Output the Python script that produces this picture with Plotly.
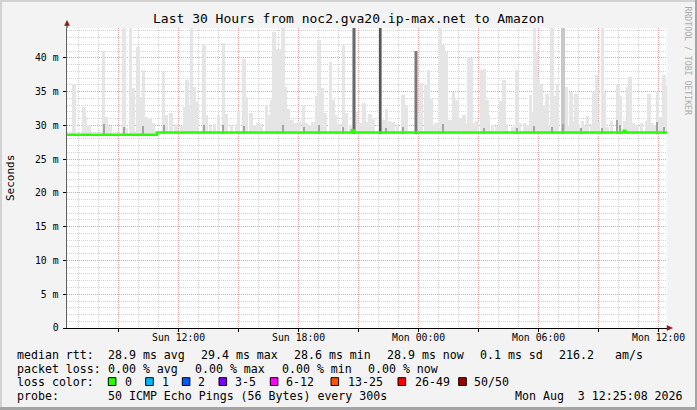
import plotly.graph_objects as go

# ---------------- data ----------------
SUN = "2026-08-02 "
MON = "2026-08-03 "

# median RTT (ms), drawn as a step line
median_times = [SUN + "06:25:08", SUN + "10:55", SUN + "20:40", SUN + "20:45",
                MON + "10:15", MON + "10:20", MON + "12:25:08"]
median_ms = [28.62, 28.95, 29.3, 28.95, 29.2, 28.95, 28.95]

# light smoke (outer ping spread) – top of each smoke column, ms
smoke_sun_times = ["06:46", "07:16", "07:20", "07:31", "08:14", "08:22", "08:34", "09:16", "09:22", "09:35",
                   "09:43", "09:58", "10:05", "10:14", "10:22", "10:34", "10:43", "11:14", "11:22", "11:37",
                   "11:52", "12:10", "12:17", "12:25", "12:32", "12:38", "12:46", "12:52", "13:16", "13:23",
                   "13:35", "13:47", "13:59", "14:14", "14:22", "14:38", "14:53", "14:59", "15:16", "15:23",
                   "15:37", "15:46", "15:58", "16:08", "16:23", "16:31", "16:38", "16:46", "16:55", "17:05",
                   "17:13", "17:20", "17:29", "17:40", "17:52", "18:01", "18:14", "18:22", "18:34", "18:43",
                   "18:55", "19:01", "19:10", "19:19", "19:35", "19:43", "19:50", "20:01", "20:14", "20:23",
                   "20:35", "20:53", "21:04", "21:16", "21:23", "21:34", "21:43", "22:16", "22:23", "22:32",
                   "22:43", "22:56", "23:13", "23:22"]
smoke_sun_tops = [36.1, 32.8, 31.3, 30.1, 41.0, 31.3, 29.9, 44.4, 29.7, 44.4,
                  35.6, 41.7, 34.2, 38.2, 31.3, 30.9, 30.3, 38.1, 31.6, 31.9,
                  30.2, 29.9, 32.8, 36.8, 33.0, 44.4, 35.7, 33.5, 42.0, 31.6,
                  29.9, 30.2, 31.6, 42.2, 31.7, 30.0, 30.2, 32.1, 39.9, 34.2,
                  31.8, 30.0, 30.4, 30.2, 33.1, 31.6, 33.8, 43.9, 41.4, 41.4,
                  44.4, 35.7, 32.5, 30.8, 30.3, 30.5, 33.0, 30.4, 30.0, 30.5,
                  34.3, 42.7, 35.6, 31.9, 39.4, 33.8, 31.6, 30.2, 41.9, 31.8,
                  30.0, 32.0, 30.3, 33.3, 30.5, 31.7, 31.0, 30.8, 32.4, 30.6,
                  30.5, 30.0, 34.5, 33.1]
smoke_mon_times = ["00:01", "00:07", "00:20", "00:29", "00:37", "00:46", "00:52", "01:05", "01:13", "01:23",
                   "01:34", "01:44", "01:55", "02:07", "02:16", "02:25", "02:31", "02:37", "02:44", "02:55",
                   "03:10", "03:17", "03:25", "03:29", "03:41", "03:55", "04:07", "04:16", "04:23", "04:43",
                   "04:55", "05:02", "05:17", "05:26", "05:35", "05:41", "05:47", "05:53", "05:59", "06:07",
                   "06:17", "06:25", "06:31", "06:40", "06:49", "06:56", "07:22", "07:29", "07:37", "07:44",
                   "07:52", "07:59", "08:11", "08:17", "08:26", "08:38", "08:46", "08:53", "08:59", "09:11",
                   "09:17", "09:26", "09:38", "09:58", "10:05", "10:17", "10:26", "10:34", "10:43", "10:55",
                   "11:08", "11:23", "11:31", "11:41", "11:50", "11:56", "12:04", "12:11", "12:16", "12:22"]
smoke_mon_tops = [31.7, 36.3, 36.0, 38.2, 34.0, 30.0, 30.3, 44.4, 41.9, 40.9,
                  30.8, 35.0, 33.8, 30.9, 31.6, 30.4, 40.2, 40.0, 30.3, 30.7,
                  38.2, 38.4, 33.8, 31.6, 30.0, 29.9, 33.7, 36.7, 30.2, 29.8,
                  38.2, 30.4, 30.4, 30.1, 34.5, 32.0, 44.4, 40.9, 36.7, 36.2,
                  33.1, 34.7, 30.1, 44.4, 34.3, 36.2, 35.7, 29.9, 35.0, 30.7,
                  34.7, 30.2, 30.7, 29.9, 31.4, 30.2, 35.0, 37.5, 30.6, 44.4,
                  35.0, 29.8, 30.7, 36.0, 34.3, 30.6, 35.7, 37.2, 30.4, 30.1,
                  30.4, 30.7, 34.7, 30.4, 30.1, 35.0, 31.2, 30.5, 37.5, 36.0]

# denser (mid-grey) smoke column
mid_times = [MON + "07:13"]
mid_tops = [44.4]

# darker smoke near the median (inner pings)
base_times = [SUN + t for t in ["08:16", "09:16", "10:14", "11:16", "13:16", "14:14", "15:16", "17:13",
                                 "18:16", "19:01", "20:14", "22:22", "23:13"]] + \
             [MON + t for t in ["01:13", "03:16", "04:55", "05:47", "06:40", "07:13", "08:07", "09:10",
                                 "09:55", "10:04", "11:55", "12:16"]]
base_tops = [30.2, 29.8, 29.9, 30.0, 30.0, 30.0, 29.9, 30.0,
             29.8, 30.0, 29.8, 29.7, 29.8,
             30.2, 29.6, 29.7, 29.9, 29.8, 30.2, 29.7, 29.7,
             30.8, 30.0, 30.5, 29.8]

# dark columns (all pings slow)
dark_times = [SUN + "20:46", SUN + "22:05", SUN + "23:52"]
dark_tops = [44.4, 44.4, 41.0]

SMOKE_BASE = 28.8  # smoke starts at the median line

# ---------------- helpers for pixel placement of decorations ----------------
L, R, T, B = 67, 667, 28, 328


def px(x):
    return (x - L) / (R - L)


def py(y):
    return (B - y) / (B - T)


MONO = "DejaVu Sans Mono"

fig = go.Figure()

smoke_times = [SUN + t for t in smoke_sun_times] + [MON + t for t in smoke_mon_times]
smoke_tops = smoke_sun_tops + smoke_mon_tops

fig.add_trace(go.Bar(x=smoke_times, y=[v - SMOKE_BASE for v in smoke_tops], base=SMOKE_BASE,
                     width=560000, marker=dict(color="#E5E5E5", line=dict(width=0)), hoverinfo="skip"))
fig.add_trace(go.Bar(x=mid_times, y=[v - SMOKE_BASE for v in mid_tops], base=SMOKE_BASE,
                     width=720000, marker=dict(color="#C8C8C8", line=dict(width=0)), hoverinfo="skip"))
fig.add_trace(go.Bar(x=base_times, y=[v - SMOKE_BASE for v in base_tops], base=SMOKE_BASE,
                     width=360000, marker=dict(color="#A4A4A4", line=dict(width=0)), hoverinfo="skip"))
fig.add_trace(go.Bar(x=dark_times, y=[v - SMOKE_BASE for v in dark_tops], base=SMOKE_BASE,
                     width=640000, marker=dict(color=["#ACACAC", "#9A9A9A", "#B8B8B8"], line=dict(width=0)),
                     hoverinfo="skip"))
fig.add_trace(go.Bar(x=dark_times, y=[v - SMOKE_BASE for v in dark_tops], base=SMOKE_BASE,
                     width=300000, marker=dict(color=["#686868", "#555555", "#7A7A7A"], line=dict(width=0)),
                     hoverinfo="skip"))
fig.add_trace(go.Scatter(x=median_times, y=median_ms, mode="lines",
                         line=dict(color="#26FF00", width=2.6, shape="hv"), hoverinfo="skip"))

# ---------------- axes ----------------
x_tickvals = [SUN + "09:00", SUN + "12:00", SUN + "15:00", SUN + "18:00", SUN + "21:00",
              MON + "00:00", MON + "03:00", MON + "06:00", MON + "09:00", MON + "12:00"]
x_ticktext = ["", "Sun 12:00", "", "Sun 18:00", "", "Mon 00:00", "", "Mon 06:00", "", "Mon 12:00"]
y_tickvals = [0, 5, 10, 15, 20, 25, 30, 35, 40]
y_ticktext = ["0", "5 m", "10 m", "15 m", "20 m", "25 m", "30 m", "35 m", "40 m"]

MAJOR = "rgba(225,130,130,0.6)"
MINOR = "rgba(170,170,170,0.5)"

fig.update_xaxes(type="date", range=[SUN + "06:25:08", MON + "12:25:08"],
                 tickmode="array", tickvals=x_tickvals, ticktext=x_ticktext,
                 showgrid=True, gridcolor=MAJOR, griddash="1px,1px", gridwidth=1,
                 minor=dict(tickmode="linear", tick0=SUN + "00:00", dtick=3600000, showgrid=True,
                            gridcolor=MINOR, griddash="1px,1px", gridwidth=1),
                 ticks="outside", ticklen=3, tickcolor="#000", showline=True, linecolor="#000", linewidth=1,
                 ticklabelstandoff=-3, automargin=False,
                 tickfont=dict(family=MONO, size=9.8, color="#000"), layer="above traces", fixedrange=True)
fig.update_yaxes(range=[0, 44.44], tickmode="array", tickvals=y_tickvals, ticktext=y_ticktext,
                 showgrid=True, gridcolor=MAJOR, griddash="1px,1px", gridwidth=1,
                 minor=dict(tickmode="linear", tick0=0, dtick=1, showgrid=True,
                            gridcolor=MINOR, griddash="1px,1px", gridwidth=1),
                 ticks="outside", ticklen=3, tickcolor="#000", showline=True, linecolor="#606060", linewidth=1.5,
                 zeroline=False, ticklabelstandoff=2, automargin=False,
                 tickfont=dict(family=MONO, size=9.8, color="#000"), layer="above traces", fixedrange=True)

# ---------------- decorations ----------------
shapes = []


def rect(x0, y0, x1, y1, fill, line=None, lw=0):
    shapes.append(dict(type="rect", xref="paper", yref="paper", x0=px(x0), x1=px(x1), y0=py(y0), y1=py(y1),
                       fillcolor=fill, line=dict(color=line or fill, width=lw), layer="above"))


# 3D frame
rect(0, 0, 697, 2, "#D2D2D2")
rect(0, 0, 2, 410, "#D2D2D2")
rect(695, 0, 697, 410, "#A4A4A4")
rect(0, 407, 697, 410, "#A4A4A4")

# axis arrows
shapes.append(dict(type="line", xref="paper", yref="paper", x0=0, x1=0, y0=1, y1=py(24),
                   line=dict(color="#606060", width=1.5)))
shapes.append(dict(type="path", xref="paper", yref="paper",
                   path=f"M {px(64.5)},{py(25.5)} L {px(67)},{py(20.5)} L {px(69.5)},{py(25.5)} Z",
                   fillcolor="#8B1A1A", line=dict(color="#8B1A1A", width=0.5)))
shapes.append(dict(type="path", xref="paper", yref="paper",
                   path=f"M {px(667)},{py(325.5)} L {px(672.5)},{py(328)} L {px(667)},{py(330.5)} Z",
                   fillcolor="#8B1A1A", line=dict(color="#8B1A1A", width=0.5)))

# loss colour boxes
loss_boxes = [(108.3, "#26FF00"), (145.7, "#00B8FF"), (182.3, "#0059FF"), (219.0, "#7E00FF"),
              (270.3, "#FF00FF"), (331.0, "#FF5500"), (398.0, "#FF0000"), (458.7, "#A10000")]
for bx, col in loss_boxes:
    rect(bx, 377.7, bx + 7.6, 385.5, col, "#000", 1)

ann = []


def text(x, y, s, size=11.6, anchor="left", color="#000", angle=0):
    ann.append(dict(xref="paper", yref="paper", x=px(x), y=py(y), text=s, showarrow=False,
                    xanchor=anchor, yanchor="middle", textangle=angle, borderpad=0,
                    font=dict(family=MONO, size=size, color=color)))


text(348.5, 19, "Last 30 Hours from noc2.gva20.ip-max.net to Amazon", size=13, anchor="center")
text(10, 178, "Seconds", size=11, anchor="center", angle=-90)
text(687.5, 61, "RRDTOOL / TOBI OETIKER", size=8.2, anchor="center", color="#ABABAB", angle=90)

y1, y2, y3, y4 = 355, 368.5, 382, 396
for x, s in [(16, "median rtt:"), (107, "28.9 ms avg"), (200, "29.4 ms max"), (293, "28.6 ms min"),
             (386, "28.9 ms now"), (479, "0.1 ms sd"), (558, "216.2"), (614, "am/s")]:
    text(x, y1, s)
for x, s in [(16, "packet loss:"), (107, "0.00 % avg"), (194, "0.00 % max"), (280.5, "0.00 % min"),
             (366.5, "0.00 % now")]:
    text(x, y2, s)
for x, s in [(16, "loss color:"), (124, "0"), (160.7, "1"), (197.3, "2"), (234, "3-5"), (285.3, "6-12"),
             (346.5, "13-25"), (414, "26-49"), (473.3, "50/50")]:
    text(x, y3, s)
text(16, y4, "probe:")
text(107, y4, "50 ICMP Echo Pings (56 Bytes) every 300s")
text(514, y4, "Mon Aug \u00a03 12:25:08 2026")

fig.update_layout(width=697, height=410, margin=dict(l=L, r=697 - R, t=T, b=410 - B, pad=0),
                  paper_bgcolor="#F3F3F3", plot_bgcolor="#FFFFFF", showlegend=False,
                  barmode="overlay", bargap=0, shapes=shapes, annotations=ann,
                  font=dict(family=MONO, color="#000"))

fig.write_html("out.html", config={"displayModeBar": False, "staticPlot": True},
               post_script="document.body.style.margin='0';document.body.style.padding='0';")
